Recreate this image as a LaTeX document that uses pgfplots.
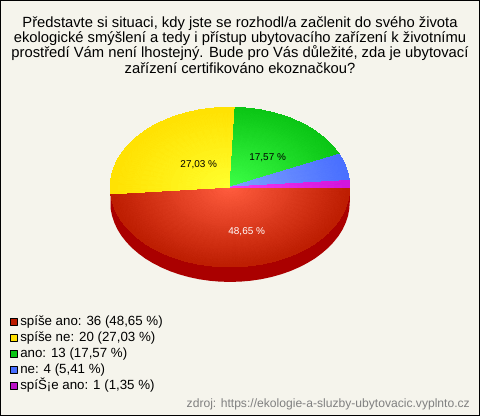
\documentclass[border=0pt]{standalone}
\usepackage{fontspec}
\setmainfont{Liberation Sans}
\usepackage{pgfplots}
\pgfplotsset{compat=1.18}

\definecolor{bgc}{RGB}{245,244,236}
\definecolor{sidec}{RGB}{170,0,0}
\definecolor{redC}{RGB}{255,92,62}
\definecolor{redR}{RGB}{188,28,0}
\definecolor{yelC}{RGB}{255,255,45}
\definecolor{yelR}{RGB}{255,224,0}
\definecolor{greC}{RGB}{60,255,70}
\definecolor{greR}{RGB}{10,196,20}
\definecolor{bluC}{RGB}{128,162,255}
\definecolor{bluR}{RGB}{72,110,255}
\definecolor{magC}{RGB}{245,55,240}
\definecolor{magR}{RGB}{208,20,220}

\pgfplotsset{
  wedge/.style={patch, shader=interp, mesh/color input=explicit, table/row sep=\\,
    legend image code/.code={\draw[black,line width=.75pt,fill=#1] (3pt,-2.6pt) rectangle (8.4pt,2.6pt); \path (10.3pt,0pt);}},
}

\begin{document}
\begin{tikzpicture}
\begin{axis}[
  scale only axis, width=360pt, height=312pt,
  xmin=0, xmax=480, ymin=0, ymax=416, y dir=reverse,
  ticks=none,
  axis line style={line width=.75pt},
  axis background/.style={fill=bgc},
  legend cell align=left,
  legend style={at={(axis cs:9.3,315)}, anchor=north west, draw=none, fill=none,
    inner sep=0pt, outer sep=0pt, row sep=1.5pt,
    font=\fontsize{10}{12}\selectfont,
    nodes={inner sep=0pt, text height=8pt, text depth=2.5pt}},
]
% bok kolace
\addplot[fill=sidec, draw=none, forget plot] coordinates {
(350,187) (350,202) (349.5,209) (348.2,215.9) (345.9,222.7) (342.8,229.4) (338.8,235.8) (333.9,242)
(328.3,247.9) (321.9,253.4) (314.9,258.6) (307.1,263.3) (298.8,267.5) (290,271.3) (280.7,274.5)
(271,277.2) (261.1,279.3) (250.8,280.8) (240.5,281.7) (230,282) (219.5,281.7) (209.2,280.8)
(198.9,279.3) (189,277.2) (179.3,274.5) (170,271.3) (161.2,267.5) (152.9,263.3) (145.1,258.6)
(138.1,253.4) (131.7,247.9) (126.1,242) (121.2,235.8) (117.2,229.4) (114.1,222.7) (111.8,215.9)
(110.4,208.8) (110.4,193.8) (230,187) (350,187)
};

% spise ano
\addplot[wedge=redR, patch table={0 1 2\\0 2 3\\0 3 4\\0 4 5\\0 5 6\\0 6 7\\0 7 8\\0 8 9\\0 9 10\\0 10 11\\0 11 12\\0 12 13\\0 13 14\\0 14 15\\0 15 16\\0 16 17\\0 17 18\\0 18 19\\0 19 20\\0 20 21\\0 21 22\\0 22 23\\0 23 24\\0 24 25\\0 25 26\\0 26 27\\0 27 28\\0 28 29\\0 29 30\\0 30 31\\0 31 32\\0 32 33\\0 33 34\\0 34 35\\0 35 36\\}] table[meta=c] {
x y c\\
230 187 color=redC\\
350 187 color=redR\\
349.5 194 color=redR\\
348.2 200.9 color=redR\\
345.9 207.7 color=redR\\
342.8 214.4 color=redR\\
338.8 220.8 color=redR\\
333.9 227 color=redR\\
328.3 232.9 color=redR\\
321.9 238.4 color=redR\\
314.9 243.6 color=redR\\
307.1 248.3 color=redR\\
298.8 252.5 color=redR\\
290 256.3 color=redR\\
280.7 259.5 color=redR\\
271 262.2 color=redR\\
261.1 264.3 color=redR\\
250.8 265.8 color=redR\\
240.5 266.7 color=redR\\
230 267 color=redR\\
219.5 266.7 color=redR\\
209.2 265.8 color=redR\\
198.9 264.3 color=redR\\
189 262.2 color=redR\\
179.3 259.5 color=redR\\
170 256.3 color=redR\\
161.2 252.5 color=redR\\
152.9 248.3 color=redR\\
145.1 243.6 color=redR\\
138.1 238.4 color=redR\\
131.7 232.9 color=redR\\
126.1 227 color=redR\\
121.2 220.8 color=redR\\
117.2 214.4 color=redR\\
114.1 207.7 color=redR\\
111.8 200.9 color=redR\\
110.4 193.8 color=redR\\
};
\addlegendentry{spíše ano: 36 (48,65 \%)}

% spise ne
\addplot[wedge=yelR, patch table={0 1 2\\0 2 3\\0 3 4\\0 4 5\\0 5 6\\0 6 7\\0 7 8\\0 8 9\\0 9 10\\0 10 11\\0 11 12\\0 12 13\\0 13 14\\0 14 15\\0 15 16\\0 16 17\\0 17 18\\0 18 19\\0 19 20\\0 20 21\\}] table[meta=c] {
x y c\\
230 187 color=yelC\\
110.4 193.8 color=yelR\\
110 187 color=yelR\\
110.5 180 color=yelR\\
111.8 173.1 color=yelR\\
114.1 166.3 color=yelR\\
117.2 159.6 color=yelR\\
121.2 153.2 color=yelR\\
126.1 147 color=yelR\\
131.7 141.1 color=yelR\\
138.1 135.6 color=yelR\\
145.1 130.4 color=yelR\\
152.9 125.7 color=yelR\\
161.2 121.5 color=yelR\\
170 117.7 color=yelR\\
179.3 114.5 color=yelR\\
189 111.8 color=yelR\\
198.9 109.7 color=yelR\\
209.2 108.2 color=yelR\\
219.5 107.3 color=yelR\\
230 107 color=yelR\\
235.1 107.1 color=yelR\\
};
\addlegendentry{spíše ne: 20 (27,03 \%)}

% ano
\addplot[wedge=greR, patch table={0 1 2\\0 2 3\\0 3 4\\0 4 5\\0 5 6\\0 6 7\\0 7 8\\0 8 9\\0 9 10\\0 10 11\\0 11 12\\0 12 13\\0 13 14\\0 14 15\\}] table[meta=c] {
x y c\\
230 187 color=greC\\
235.1 107.1 color=greR\\
240.5 107.3 color=greR\\
250.8 108.2 color=greR\\
261.1 109.7 color=greR\\
271 111.8 color=greR\\
280.7 114.5 color=greR\\
290 117.7 color=greR\\
298.8 121.5 color=greR\\
307.1 125.7 color=greR\\
314.9 130.4 color=greR\\
321.9 135.6 color=greR\\
328.3 141.1 color=greR\\
333.9 147 color=greR\\
338.8 153.2 color=greR\\
339.4 154.1 color=greR\\
};
\addlegendentry{ano: 13 (17,57 \%)}

% ne
\addplot[wedge=bluR, patch table={0 1 2\\0 2 3\\0 3 4\\0 4 5\\}] table[meta=c] {
x y c\\
230 187 color=bluC\\
339.4 154.1 color=bluR\\
342.8 159.6 color=bluR\\
345.9 166.3 color=bluR\\
348.2 173.1 color=bluR\\
349.6 180.3 color=bluR\\
};
\addlegendentry{ne: 4 (5,41 \%)}

% spíŠ¡e ano
\addplot[wedge=magR!90!black, patch table={0 1 2\\}] table[meta=c] {
x y c\\
230 187 color=magC\\
349.6 180.3 color=magR\\
350 187 color=magR\\
};
\addlegendentry{spíŠ¡e ano: 1 (1,35 \%)}

\node[font=\fontsize{11.1}{11.6}\selectfont, align=center, anchor=north, black] at (axis cs:240,11)
  {Představte si situaci, kdy jste se rozhodl/a začlenit do svého života\\
   ekologické smýšlení a tedy i přístup ubytovacího zařízení k životnímu\\
   prostředí Vám není lhostejný. Bude pro Vás důležité, zda je ubytovací\\
   zařízení certifikováno ekoznačkou?};
\node[font=\fontsize{7.5}{9}\selectfont, white] at (axis cs:246.7,231.7) {48,65 \%};
\node[font=\fontsize{7.5}{9}\selectfont, black] at (axis cs:198.7,164) {27,03 \%};
\node[font=\fontsize{7.5}{9}\selectfont, black] at (axis cs:267.7,158) {17,57 \%};
\node[font=\fontsize{9.1}{11}\selectfont, gray, anchor=east] at (axis cs:475,404.5)
  {zdroj: https://ekologie-a-sluzby-ubytovacic.vyplnto.cz};
\end{axis}
\end{tikzpicture}
\end{document}
